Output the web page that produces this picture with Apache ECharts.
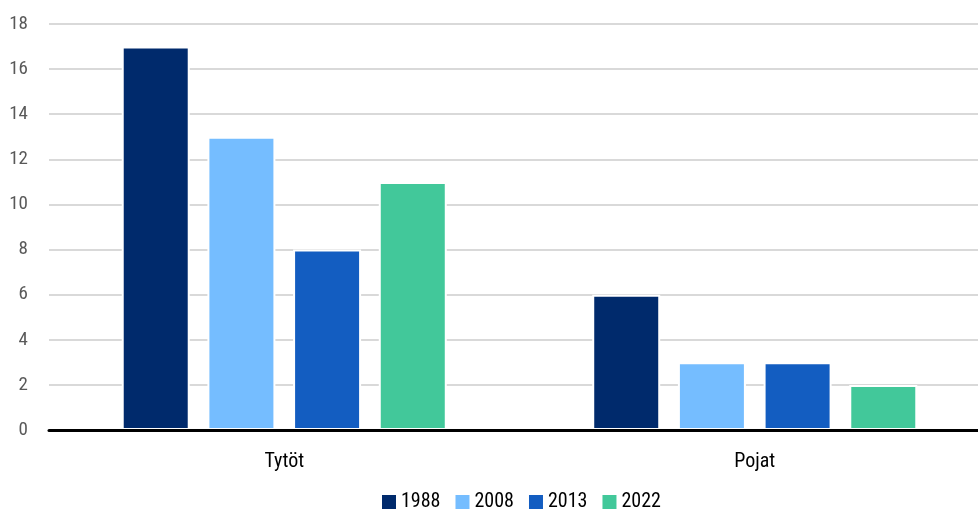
<!DOCTYPE html>
<html><head><meta charset="utf-8">
<script src="https://cdn.jsdelivr.net/npm/echarts@6/dist/echarts.min.js"></script>
<style>html,body{margin:0;padding:0;background:#fff}#c{width:978px;height:510px}</style>
</head><body><div id="c"></div>
<script>
const categories = ['Tytöt', 'Pojat'];
const seriesNames = ['1988', '2008', '2013', '2022'];
const v1988 = [17, 6];
const v2008 = [13, 3];
const v2013 = [8, 3];
const v2022 = [11, 2];
const colors = ['#002a6c', '#75bdff', '#135dc1', '#42c89a'];
const FONT = '"Roboto Condensed", "DejaVu Sans Condensed", sans-serif';
const values = [v1988, v2008, v2013, v2022];
const chart = echarts.init(document.getElementById('c'));
chart.setOption({
  animation: false,
  textStyle: {fontFamily: FONT},
  grid: {left: 49, width: 941, top: 24, height: 406, containLabel: false, outerBoundsMode: 'none'},
  legend: {
    left: 380, top: 492, padding: 0, itemWidth: 16, itemHeight: 16, itemGap: 13,
    icon: 'rect',
    textStyle: {fontFamily: FONT, fontSize: 20, color: '#000', padding: [0, 0, 0, -1]},
    data: seriesNames
  },
  xAxis: {
    type: 'category', data: categories, z: 5,
    axisLine: {lineStyle: {color: '#000', width: 3}},
    axisTick: {show: false},
    axisLabel: {fontFamily: FONT, fontSize: 20, color: '#000', margin: 22}
  },
  yAxis: {
    type: 'value', min: 0, max: 18, interval: 2,
    axisLine: {show: false}, axisTick: {show: false},
    splitLine: {lineStyle: {color: '#d9d9d9', width: 2}},
    axisLabel: {fontFamily: FONT, fontSize: 19, color: '#595959', margin: 21}
  },
  series: seriesNames.map((n, i) => ({
    name: n, type: 'bar', data: values[i],
    barWidth: 68, barGap: '26%',
    itemStyle: {color: colors[i], borderColor: '#fff', borderWidth: 2}
  }))
});
</script></body></html>
